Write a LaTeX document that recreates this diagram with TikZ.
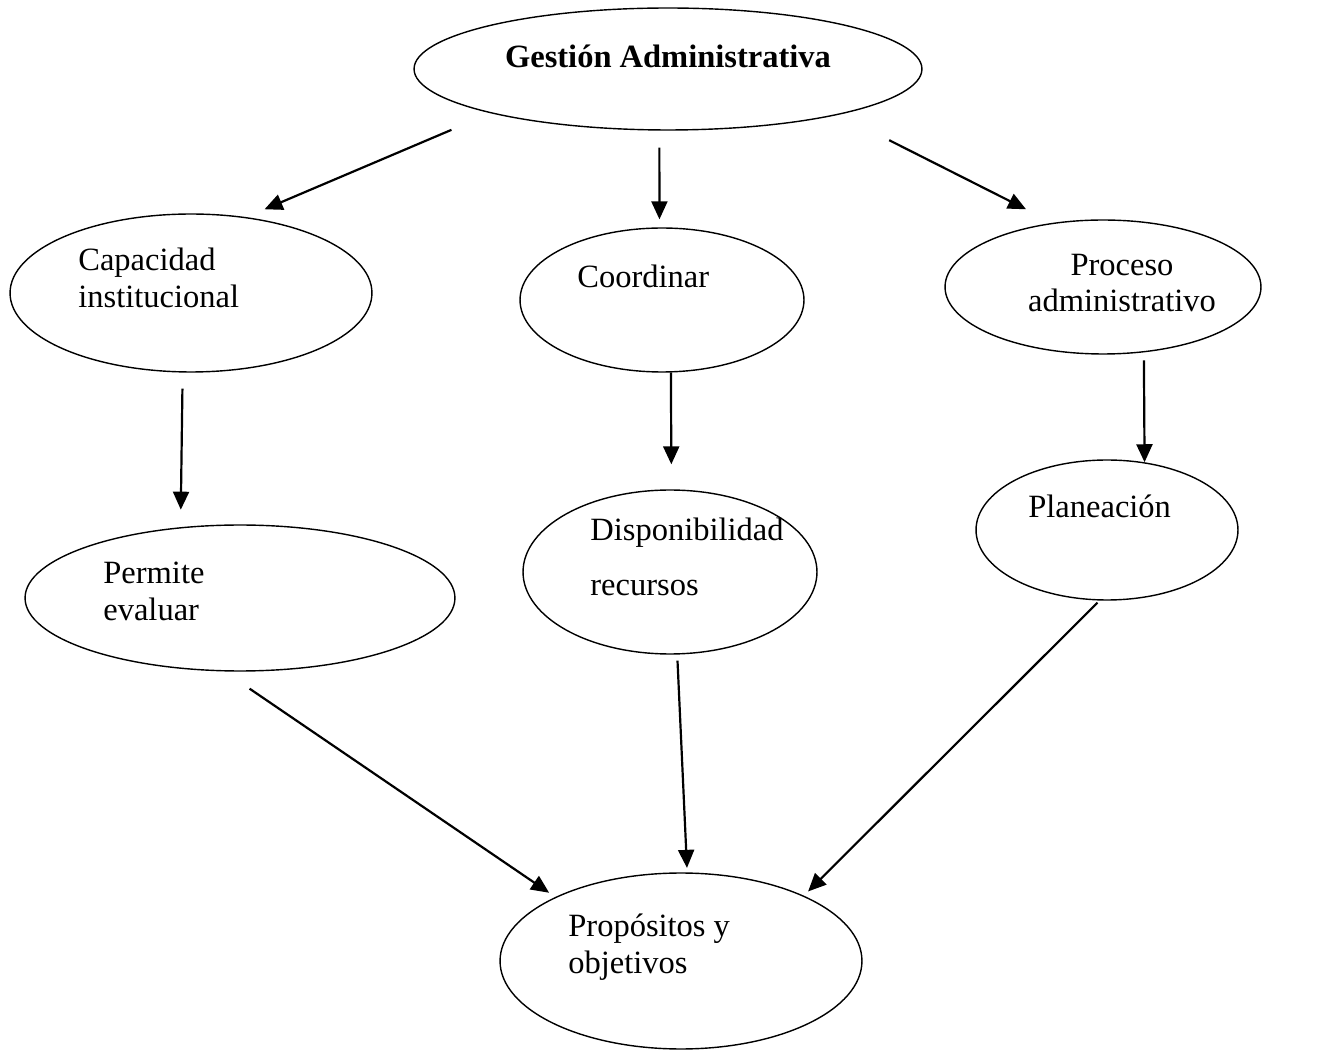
\documentclass[tikz,border=0pt]{standalone}
\usepackage{fontspec}
\setmainfont{Liberation Serif}
\usetikzlibrary{arrows.meta,shapes.geometric}
\tikzset{>/.tip={Triangle[length=0.36cm,width=0.32cm]}}
\tikzset{oval/.style={draw,ellipse,line width=0.8pt,inner sep=0pt}}
\tikzset{txt/.style={inner sep=0pt,align=left}}

\begin{document}
\begin{tikzpicture}[x=0.02cm,y=-0.02cm,font=\fontsize{18.5}{21}\selectfont]
        \useasboundingbox (0,0) rectangle (1319,1053);
        % ovals
        \node(gest)[oval,minimum width=10.16cm,minimum height=2.44cm] at (668,69){};
        \node(cap)[oval,minimum width=7.24cm,minimum height=3.16cm] at (191,293){};
        \node(coo)[oval,minimum width=5.68cm,minimum height=2.88cm] at (662,300){};
        \node(proc)[oval,minimum width=6.32cm,minimum height=2.68cm] at (1103,287){};
        \node(perm)[oval,minimum width=8.6cm,minimum height=2.92cm] at (240,598){};
        \node(disp)[oval,minimum width=5.88cm,minimum height=3.28cm] at (670,572){};
        \node(plan)[oval,minimum width=5.24cm,minimum height=2.8cm] at (1107,530){};
        \node(prop)[oval,minimum width=7.24cm,minimum height=3.52cm] at (681,961){};
        % texts
        \node(gestL)[txt,anchor=base,font=\fontsize{18.5}{21}\selectfont\bfseries] at (668,68){Gestión Administrativa};
        \node(capL)[txt,anchor=west] at (78,278){Capacidad\\institucional};
        \node(cooL)[txt,anchor=base west] at (577,288){Coordinar};
        \node(procL)[txt,align=center] at (1122,283){Proceso\\administrativo};
        \node(permL)[txt,anchor=west] at (103,591){Permite\\evaluar};
        \node(dispL)[txt,anchor=west,font=\fontsize{18.5}{31.3}\selectfont] at (590,557){Disponibilidad\\recursos};
        \node(planL)[txt,anchor=base west] at (1028,518){Planeación};
        \node(propL)[txt,anchor=west] at (568,947){Propósitos y\\objetivos};
        \path[every edge/.style={draw,->,line width=1.25pt}]
        (gest.194) edge[shorten <=0.85cm,shorten >=0.40cm] (cap.54)
        (gest.262) edge[shorten <=0.34cm,shorten >=0.16cm] (coo.92)
        (gest.345) edge[shorten <=1.13cm,shorten >=0.60cm] (proc.128)
        (cap.264) edge[shorten <=0.32cm,shorten >=0.35cm] (perm.130)
        (coo.277) edge[shorten >=0.50cm] (disp.89)
        (proc.302) edge[shorten <=0.16cm] (plan.61)
        (perm.258) edge[shorten <=0.61cm,shorten >=0.15cm] (prop.153)
        (disp.275) edge[shorten <=0.12cm,shorten >=0.09cm] (prop.86)
        (plan.264) edge[shorten <=0.06cm,shorten >=0.12cm] (prop.28);
\end{tikzpicture}
\end{document}
